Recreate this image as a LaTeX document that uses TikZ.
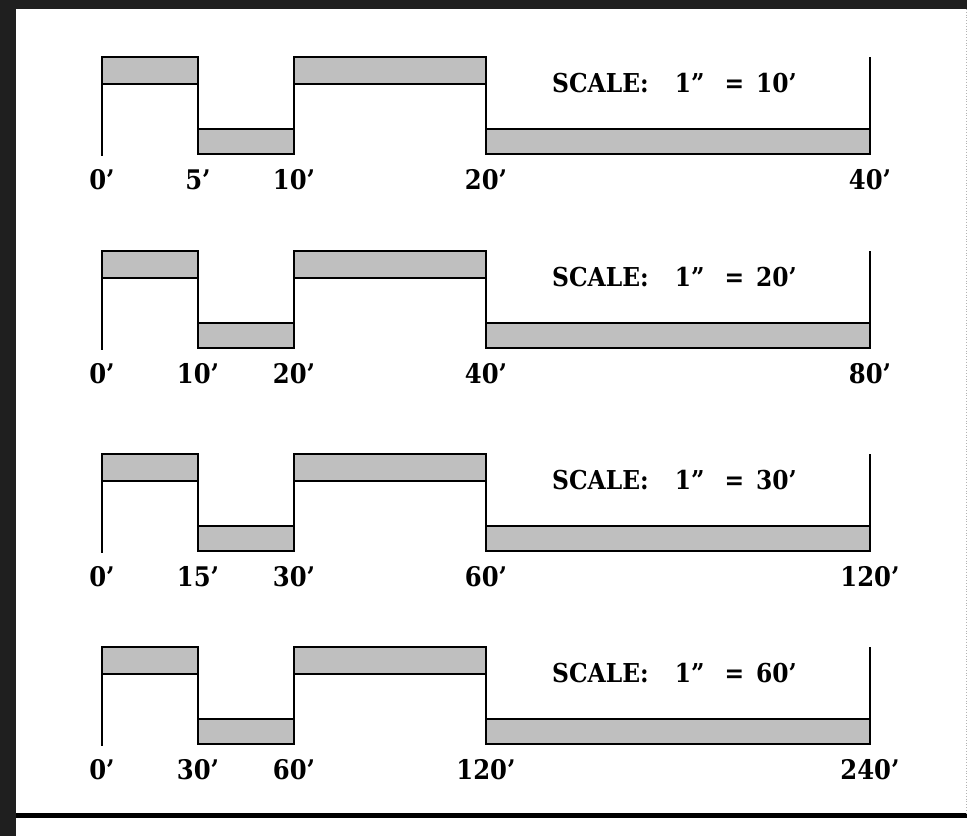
\documentclass[tikz,border=0pt]{standalone}
\usepackage{fontspec}
\setmainfont{DejaVu Serif Condensed}
\usetikzlibrary{positioning}
\tikzset{
bar/.style={
  draw,
  line width=2.2pt,
  fill=gray!50
  },
edge/.style={
  line width=2pt
  },
tick/.style={
  anchor=base,
  inner sep=0pt,
  font=\fontsize{27}{32}\selectfont\bfseries
  },
scl/.style={
  anchor=base west,
  inner sep=0pt,
  font=\fontsize{26}{30}\selectfont\bfseries
  }
}

\begin{document}
\begin{tikzpicture}[x=1pt,y=-1pt]
\useasboundingbox (0,0) rectangle (967,836);
\fill[white] (0,0) rectangle (967,836);

% frame
\fill[black!88] (0,0) rectangle (16,836);
\fill[black!88] (0,0) rectangle (967,9);
\fill[black] (16,813) rectangle (967,818);
\draw[gray!60,dotted,line width=0.8pt] (966,9) -- (966,813);

\foreach \t/\s [count=\i] in {57/10,251/20,454/30,647/60}{
  \pgfmathtruncatemacro{\h}{\s/2}
  \pgfmathtruncatemacro{\d}{2*\s}
  \pgfmathtruncatemacro{\q}{4*\s}
  % bars
  \draw[bar] (102,\t) rectangle (198,\t+27);
  \draw[bar] (198,\t+72) rectangle (294,\t+97);
  \draw[bar] (294,\t) rectangle (486,\t+27);
  \draw[bar] (486,\t+72) rectangle (870,\t+97);
  \draw[edge] (102,\t+27) -- (102,\t+99);
  \draw[edge] (198,\t+27) -- (198,\t+72);
  \draw[edge] (294,\t+27) -- (294,\t+72);
  \draw[edge] (486,\t+27) -- (486,\t+72);
  \draw[edge] (870,\t) -- (870,\t+72);
  % labels
  \node[tick] (a\i) at (102,\t+132) {0’};
  \node[tick] (b\i) at (198,\t+132) {\h’};
  \node[tick] (c\i) at (294,\t+132) {\s’};
  \node[tick] (d\i) at (486,\t+132) {\d’};
  \node[tick] (e\i) at (870,\t+132) {\q’};
  \node[scl] (s\i) at (552,\t+35) {SCALE:\hspace{26pt}1”\hspace{20pt}=\hspace{12pt}\s’};
}
\end{tikzpicture}
\end{document}
